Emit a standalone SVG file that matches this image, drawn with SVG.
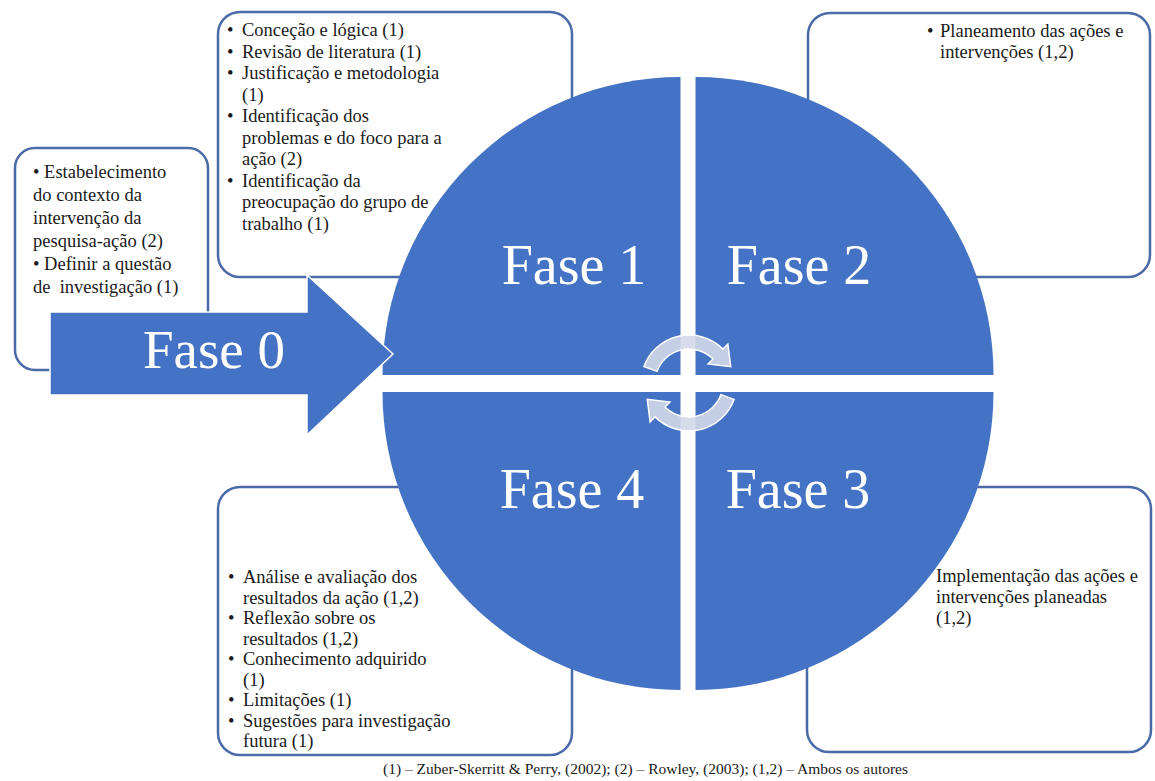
<svg xmlns="http://www.w3.org/2000/svg" width="1155" height="781" viewBox="0 0 1155 781">
<style>
.box{fill:#ffffff;stroke:#4a6aa8;stroke-width:2.5}
.q{fill:#4472c4}
.big{font-family:"Liberation Serif","Times New Roman",serif;font-size:56px;fill:#ffffff;text-anchor:middle}
text.t{font-family:"Liberation Serif",serif;font-size:18.5px;fill:#1a1a1a}
text.foot{font-family:"Liberation Serif",serif;font-size:15.5px;fill:#1a1a1a}
.cyc{fill:#d3d8e8;fill-opacity:0.9;stroke:#ffffff;stroke-width:1.5}
</style>
<rect width="1155" height="781" fill="#ffffff"/>
<g id="box-fase0"><rect class="box" x="15" y="148" width="193" height="222" rx="20"/></g>
<g id="box-fase1"><rect class="box" x="218" y="12" width="354" height="265" rx="22"/></g>
<g id="box-fase2"><rect class="box" x="808" y="13" width="342" height="264" rx="22"/></g>
<g id="box-fase4"><rect class="box" x="218" y="487" width="354" height="268" rx="22"/></g>
<g id="box-fase3"><rect class="box" x="807" y="487" width="344" height="265" rx="22"/></g>
<g id="fase1"><path class="q" d="M680.5,375 L382.5,375 A298,298 0 0 1 680.5,77 Z"/></g>
<g id="fase2"><path class="q" d="M695.5,375 L695.5,77 A298,298 0 0 1 993.5,375 Z"/></g>
<g id="fase3"><path class="q" d="M695.5,392 L993.5,392 A298,298 0 0 1 695.5,690 Z"/></g>
<g id="fase4"><path class="q" d="M680.5,392 L680.5,690 A298,298 0 0 1 382.5,392 Z"/></g>
<g id="connectors">
<path class="cyc" d="M643.9,366.6 A48,48 0 0 1 722.9,349.1 L727.9,344.1 L730.7,366.7 L708.1,363.9 L713.0,359.0 A34,34 0 0 0 657.05,371.37 Z"/>
<path class="cyc" transform="rotate(180 689 383)" d="M643.9,366.6 A48,48 0 0 1 722.9,349.1 L727.9,344.1 L730.7,366.7 L708.1,363.9 L713.0,359.0 A34,34 0 0 0 657.05,371.37 Z"/>
</g>
<g id="fase0"><path class="q" stroke="#ffffff" stroke-width="1.5" d="M50,312 L307,312 L307,275 L393,354 L307,435 L307,395 L50,395 Z"/>
<text class="big" x="214" y="368" style="font-size:55px">Fase 0</text></g>
<g id="labels">
<text class="big" x="574" y="284">Fase 1</text>
<text class="big" x="799" y="284">Fase 2</text>
<text class="big" x="572" y="508">Fase 4</text>
<text class="big" x="798" y="508">Fase 3</text>
</g>
<g id="text-fase0">
<text class="t" x="33" y="178">• Estabelecimento</text>
<text class="t" x="33" y="201">do contexto da</text>
<text class="t" x="33" y="224">intervenção da</text>
<text class="t" x="33" y="247">pesquisa-ação (2)</text>
<text class="t" x="33" y="270">• Definir a questão</text>
<text class="t" x="33" y="293">de&#160; investigação (1)</text>
</g>
<g id="text-fase1">
<text class="t" x="227" y="36">•</text><text class="t" x="242" y="36">Conceção e lógica (1)</text>
<text class="t" x="227" y="57.5">•</text><text class="t" x="242" y="57.5">Revisão de literatura (1)</text>
<text class="t" x="227" y="79">•</text><text class="t" x="242" y="79">Justificação e metodologia</text>
<text class="t" x="242" y="100.5">(1)</text>
<text class="t" x="227" y="122">•</text><text class="t" x="242" y="122">Identificação dos</text>
<text class="t" x="242" y="143.5">problemas e do foco para a</text>
<text class="t" x="242" y="165">ação (2)</text>
<text class="t" x="227" y="186.5">•</text><text class="t" x="242" y="186.5">Identificação da</text>
<text class="t" x="242" y="208">preocupação do grupo de</text>
<text class="t" x="242" y="229.5">trabalho (1)</text>
</g>
<g id="text-fase2">
<text class="t" x="927" y="37">•</text><text class="t" x="940" y="37">Planeamento das ações e</text>
<text class="t" x="940" y="58">intervenções (1,2)</text>
</g>
<g id="text-fase4">
<text class="t" x="228" y="583">•</text><text class="t" x="243" y="583">Análise e avaliação dos</text>
<text class="t" x="243" y="603.5">resultados da ação (1,2)</text>
<text class="t" x="228" y="624">•</text><text class="t" x="243" y="624">Reflexão sobre os</text>
<text class="t" x="243" y="644.5">resultados (1,2)</text>
<text class="t" x="228" y="665">•</text><text class="t" x="243" y="665">Conhecimento adquirido</text>
<text class="t" x="243" y="685.5">(1)</text>
<text class="t" x="228" y="706">•</text><text class="t" x="243" y="706">Limitações (1)</text>
<text class="t" x="228" y="726.5">•</text><text class="t" x="243" y="726.5">Sugestões para investigação</text>
<text class="t" x="243" y="747">futura (1)</text>
</g>
<g id="text-fase3">
<text class="t" x="936" y="582">Implementação das ações e</text>
<text class="t" x="936" y="603">intervenções planeadas</text>
<text class="t" x="936" y="624">(1,2)</text>
</g>
<text class="foot" x="383" y="774">(1) – Zuber-Skerritt &amp; Perry, (2002); (2) – Rowley, (2003); (1,2) – Ambos os autores</text>
</svg>
